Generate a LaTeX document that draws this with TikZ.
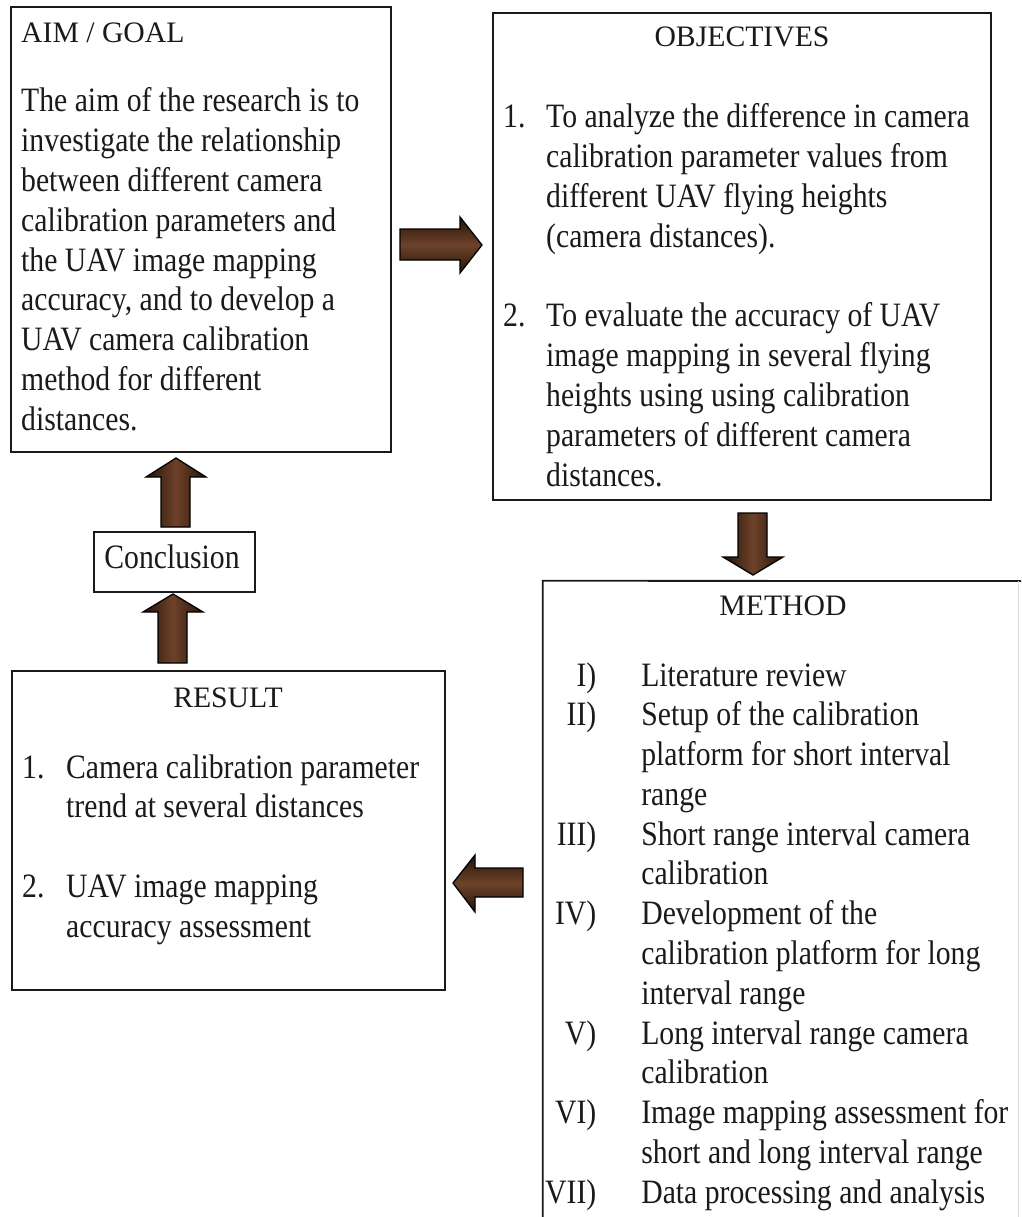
\documentclass[tikz,border=0pt]{standalone}
\usepackage{fontspec}
\setmainfont{Liberation Serif}
\usepackage{graphicx}
\usepackage{array}
\definecolor{brdark}{HTML}{24140A}
\definecolor{brlight}{HTML}{6E4229}
\definecolor{inkc}{HTML}{1A1A1A}
\newcommand\bodyblk[1]{\scalebox{1}[1.15]{\begin{tabular}[t]{@{}l@{}}#1\end{tabular}}}
\newcommand\numblk[2]{\scalebox{1}[1.15]{\begin{tabular}[t]{@{}p{#1}@{}l@{}}#2\end{tabular}}}
\tikzset{
  box/.style={draw=inkc, line width=1.8pt, inner sep=0pt},
  txt/.style={inner sep=0pt, font=\fontsize{29.7}{34.6}\selectfont, text=inkc},
  ttl/.style={inner sep=0pt, font=\fontsize{29.7}{34.6}\selectfont, text=inkc, anchor=base},
  harrow/.style={top color=brdark, bottom color=brdark, middle color=brlight, draw=black, line width=1.3pt, line join=miter},
  varrow/.style={left color=brdark, right color=brdark, middle color=brlight, draw=black, line width=1.3pt, line join=miter}
}
\begin{document}
\begin{tikzpicture}[x=1pt,y=-1pt]
\useasboundingbox (0,0) rectangle (1021,1217);
\clip (0,0) rectangle (1021,1217);
\fill[white] (0,0) rectangle (1021,1217);

% boxes
\node[box, minimum width=380pt, minimum height=445pt] (aim) at (201,229.5) {};
\node[box, minimum width=498pt, minimum height=487pt] (obj) at (742,256.5) {};
\node[box, minimum width=433pt, minimum height=319pt] (res) at (228.5,830.5) {};
\node[box, minimum width=161pt, minimum height=60pt] (concl) at (174.5,562) {};
\node[inner sep=0pt, minimum width=475pt, minimum height=660pt] (meth) at (780.5,911) {};
\draw[inkc, line width=1.8pt] (meth.south west) -- (meth.north west) -- (1021,581);
\draw[black!15, line width=1.2pt] (meth.north east) -- (meth.south east);

% aim text
\node[txt, anchor=base west] (aimt) at (21,43) {AIM / GOAL};
\node[txt, anchor=base west] (aimb) at (21,112) {\bodyblk{The aim of the research is to\\
investigate the relationship\\
between different camera\\
calibration parameters and\\
the UAV image mapping\\
accuracy, and to develop a\\
UAV camera calibration\\
method for different\\
distances.}};

% objectives text
\node[ttl] (objt) at (742,47) {OBJECTIVES};
\node[txt, anchor=base west] (objb) at (503,128) {\numblk{43pt}{1. & To analyze the difference in camera\\
 & calibration parameter values from\\
 & different UAV flying heights\\
 & (camera distances).\\
 & \\
2. & To evaluate the accuracy of UAV\\
 & image mapping in several flying\\
 & heights using using calibration\\
 & parameters of different camera\\
 & distances.}};

% method text
\node[ttl] (metht) at (783,615) {METHOD};
\node[txt, anchor=base west] (methb) at (545,686) {\scalebox{1}[1.15]{\begin{tabular}[t]{@{}r@{\hspace{45pt}}l@{}}
I) & Literature review\\
II) & Setup of the calibration\\
 & platform for short interval\\
 & range\\
III) & Short range interval camera\\
 & calibration\\
IV) & Development of the\\
 & calibration platform for long\\
 & interval range\\
V) & Long interval range camera\\
 & calibration\\
VI) & Image mapping assessment for\\
 & short and long interval range\\
VII) & Data processing and analysis
\end{tabular}}};

% result text
\node[ttl] (rest) at (228,707) {RESULT};
\node[txt, anchor=base west] (resb) at (22,778) {\numblk{44pt}{1. & Camera calibration parameter\\
 & trend at several distances\\
 & \\
2. & UAV image mapping\\
 & accuracy assessment}};

% conclusion text
\node[txt, anchor=base] (conclt) at (172,568) {\bodyblk{Conclusion}};

% block arrows
\shadedraw[harrow] (400,229) -- (460,229) -- (460,217) -- (482,245) -- (460,273) -- (460,260) -- (400,260) -- cycle;
\shadedraw[varrow] (738,513) -- (767,513) -- (767,557) -- (783,557) -- (753,575) -- (723,557) -- (738,557) -- cycle;
\shadedraw[harrow] (523,868) -- (475,868) -- (475,855) -- (453,883) -- (475,912) -- (475,897) -- (523,897) -- cycle;
\shadedraw[varrow] (161,527) -- (161,477) -- (146,477) -- (176,458) -- (206,477) -- (190,477) -- (190,527) -- cycle;
\shadedraw[varrow] (158,663) -- (158,612) -- (143,612) -- (173,594) -- (203,612) -- (187,612) -- (187,663) -- cycle;
\end{tikzpicture}
\end{document}
